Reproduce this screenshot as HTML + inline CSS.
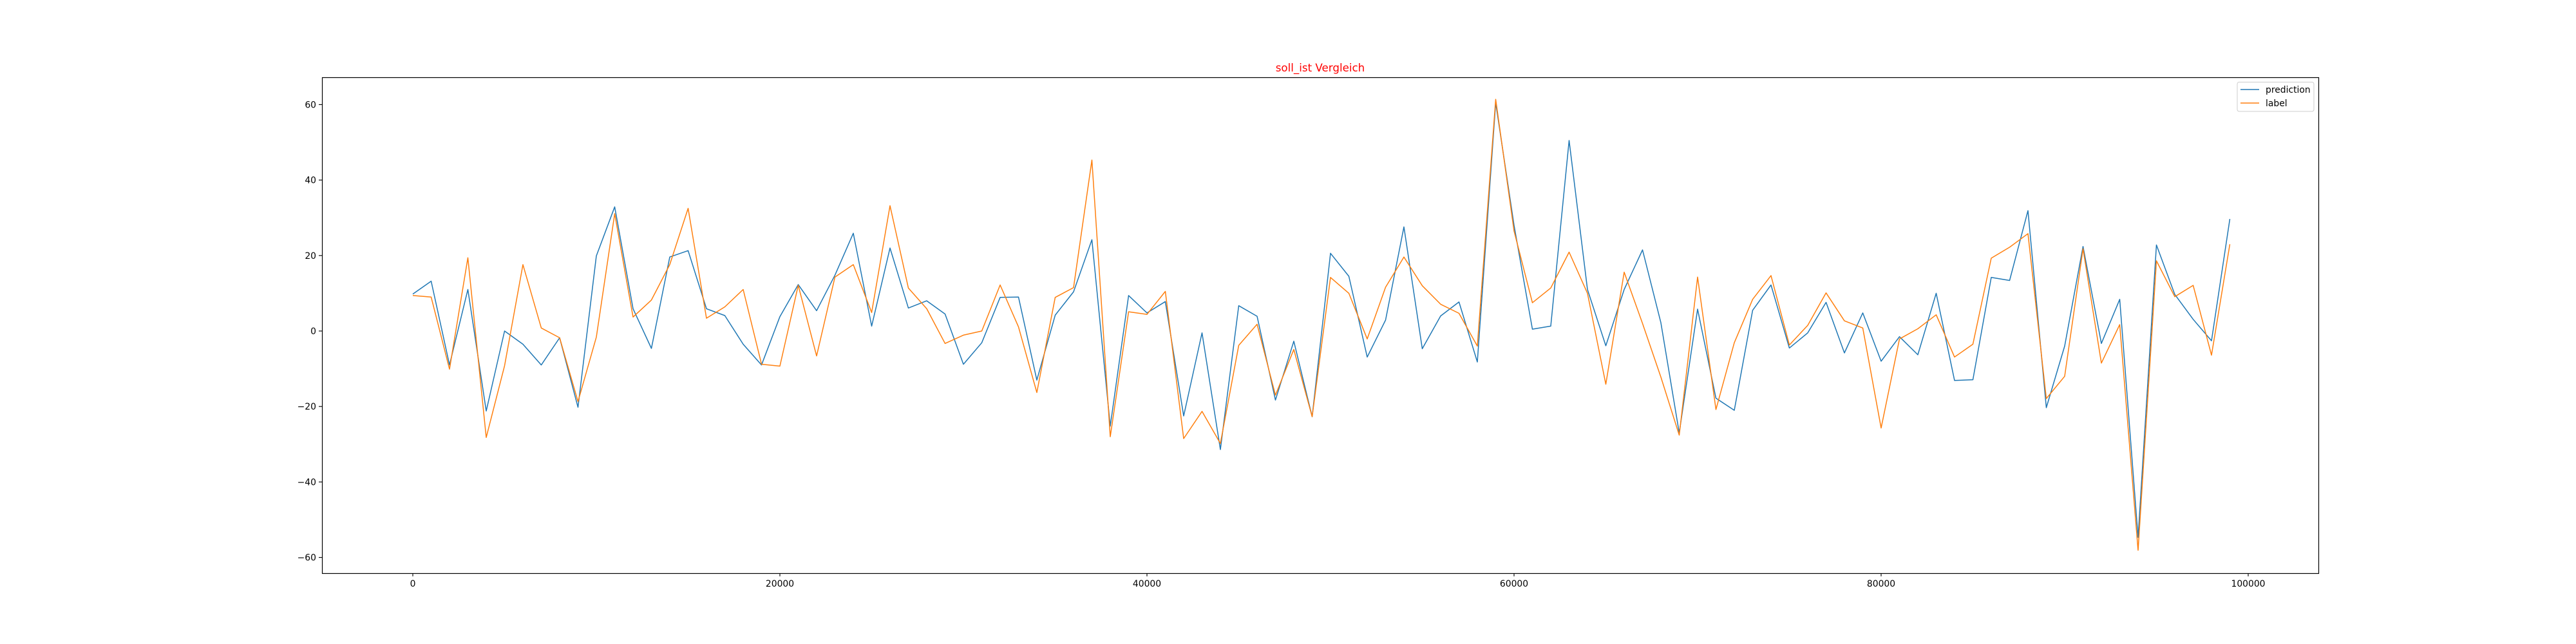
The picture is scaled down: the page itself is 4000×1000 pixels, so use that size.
<!DOCTYPE html>
<html><head><meta charset="utf-8"><style>
html,body{margin:0;padding:0;background:#fff}
svg{display:block;font-family:"DejaVu Sans","Liberation Sans",sans-serif}
</style></head><body>
<svg id="chart" width="4000" height="1000" viewBox="0 0 4000 1000" xmlns="http://www.w3.org/2000/svg">
<rect x="0" y="0" width="4000" height="1000" fill="#fff"/>
<text x="2050" y="111" text-anchor="middle" font-size="16.7" fill="red">soll_ist Vergleich</text>
<g id="ticks"></g>
<g id="series"></g>
<rect x="500.5" y="120.5" width="3100" height="770" fill="none" stroke="#000" stroke-width="1.2"/>
<g>
<rect x="3474" y="127.5" width="119" height="45.5" rx="3" fill="#fff" fill-opacity="0.8" stroke="#ccc" stroke-width="1"/>
<line x1="3479" y1="139" x2="3508" y2="139" stroke="#1f77b4" stroke-width="1.5"/>
<text x="3518" y="144" font-size="13.9" fill="#000">prediction</text>
<line x1="3479" y1="160" x2="3508" y2="160" stroke="#ff7f0e" stroke-width="1.5"/>
<text x="3518" y="165" font-size="13.9" fill="#000">label</text>
</g>
</svg>
<script>
const xTicks = [0, 20000, 40000, 60000, 80000, 100000];
const yTicks = [-60, -40, -20, 0, 20, 40, 60];
const prediction = [9.8,13.2,-9.0,11.0,-21.2,0,-3.5,-9.0,-1.8,-20.2,19.9,32.9,5.9,-4.6,19.6,21.3,5.9,4.1,-3.5,-9.0,
3.8,12.3,5.4,14.8,25.9,1.3,22.0,6.1,8.0,4.5,-8.8,-3.1,8.9,9.0,-13.0,4.2,10.4,24.2,-25.2,9.4,
4.8,7.8,-22.5,-0.5,-31.4,6.7,3.9,-18.3,-2.7,-22.7,20.6,14.5,-6.9,2.9,27.6,-4.7,4.0,7.7,-8.2,60.5,
28.0,0.5,1.3,50.5,11.0,-3.9,11.0,21.5,2.2,-27.0,5.8,-17.8,-21.0,5.5,12.2,-4.5,-0.5,7.6,-5.8,4.8,
-8.0,-1.5,-6.3,10.0,-13.1,-12.9,14.2,13.4,31.9,-20.3,-4.0,22.4,-3.3,8.4,-54.7,22.8,9.7,3.1,-2.6,29.7];
const label = [9.4,9.0,-10.1,19.4,-28.2,-9.2,17.6,0.8,-1.8,-18.7,-1.6,31.1,3.7,8.2,17.6,32.5,3.4,6.4,11.0,-8.8,
-9.3,12.1,-6.6,14.3,17.6,4.9,33.2,11.4,5.9,-3.3,-1.1,0,12.2,1.1,-16.3,8.9,11.5,45.3,-28.0,5.1,
4.4,10.5,-28.5,-21.3,-29.8,-3.8,1.8,-17.0,-4.9,-22.7,14.2,10.0,-2.1,11.6,19.6,12.0,7.1,4.7,-4.0,61.4,
26.5,7.5,11.4,20.9,10.0,-14.1,15.6,2.0,-12.2,-27.6,14.3,-20.8,-3.1,8.4,14.7,-3.7,1.5,10.1,2.7,0.8,
-25.7,-2.1,0.6,4.3,-6.9,-3.5,19.3,22.2,25.8,-17.9,-12.0,21.8,-8.5,1.7,-58.1,18.6,9.1,12.1,-6.4,23.0];
const xStep = 1000;

const NS = 'http://www.w3.org/2000/svg';
function xs(v){ return 641 + (v/1000)*28.5; }
function ys(v){ return 514 - v*5.86; }
const tg = document.getElementById('ticks');
xTicks.forEach(t=>{
  const l=document.createElementNS(NS,'line');
  
  
  l.setAttribute('x1',xs(t));l.setAttribute('x2',xs(t));l.setAttribute('y1',890);l.setAttribute('y2',895);
  l.setAttribute('stroke','#000');l.setAttribute('stroke-width','1.1');
  tg.appendChild(l);
  const tx=document.createElementNS(NS,'text');
  
  
  tx.setAttribute('x',xs(t));tx.setAttribute('y',911);tx.setAttribute('text-anchor','middle');tx.setAttribute('font-size','13.9');
  tx.textContent=String(t);
  tg.appendChild(tx);
});
yTicks.forEach(t=>{
  const l=document.createElementNS(NS,'line');
  
  
  l.setAttribute('x1',495);l.setAttribute('x2',500);l.setAttribute('y1',ys(t));l.setAttribute('y2',ys(t));
  l.setAttribute('stroke','#000');l.setAttribute('stroke-width','1.1');
  tg.appendChild(l);
  const tx=document.createElementNS(NS,'text');
  
  
  tx.setAttribute('x',491);tx.setAttribute('y',ys(t)+5);tx.setAttribute('text-anchor','end');tx.setAttribute('font-size','13.9');
  tx.textContent=(t<0?'\u2212'+(-t):String(t));
  tg.appendChild(tx);
});
const sg=document.getElementById('series');
function draw(arr,color,name){
  const p=document.createElementNS(NS,'polyline');
  
  
  p.setAttribute('points',arr.map((v,i)=>xs(i*xStep).toFixed(1)+','+ys(v).toFixed(1)).join(' '));
  p.setAttribute('fill','none');p.setAttribute('stroke',color);p.setAttribute('stroke-width','1.5');p.setAttribute('stroke-linejoin','round');
  sg.appendChild(p);
}
draw(prediction,'#1f77b4','prediction-line');
draw(label,'#ff7f0e','label-line');
</script>
</body></html>
